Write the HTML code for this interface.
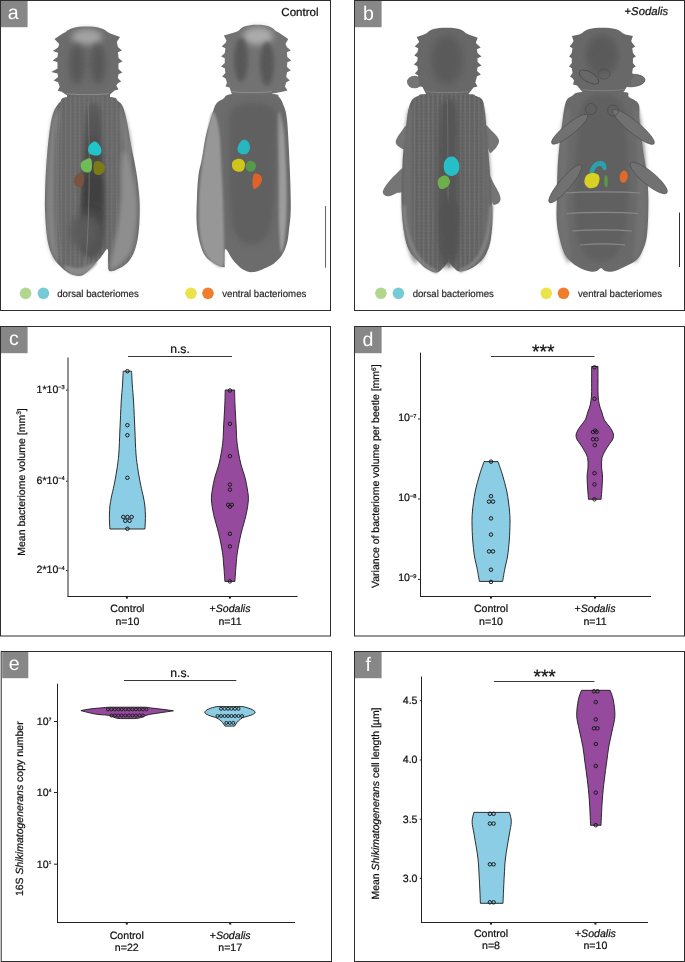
<!DOCTYPE html>
<html><head><meta charset="utf-8"><title>Figure</title>
<style>
html,body{margin:0;padding:0;background:#fff;}
body{width:685px;height:962px;overflow:hidden;font-family:"Liberation Sans",sans-serif;}
svg{display:block;will-change:transform;}
svg text{font-family:"Liberation Sans",sans-serif;text-rendering:geometricPrecision;}
svg text[fill="#111"]{stroke:#111;stroke-width:0.22px;}
svg text[fill="#2a2a2a"]{stroke:#2a2a2a;stroke-width:0.2px;}
</style></head><body>
<svg width="685" height="962" viewBox="0 0 685 962">
<rect width="685" height="962" fill="#fff"/>
<rect x="0.50" y="0.50" width="330.00" height="310.00" fill="none" stroke="#2e2e2e" stroke-width="1"/>
<rect x="1.00" y="1.00" width="26.60" height="26.20" fill="#878787"/>
<text x="13.20" y="18.60" font-size="19.6" fill="#fff" text-anchor="middle" font-family="Liberation Sans, sans-serif">a</text>
<rect x="354.50" y="0.50" width="330.00" height="310.00" fill="none" stroke="#2e2e2e" stroke-width="1"/>
<rect x="355.00" y="1.00" width="26.60" height="26.20" fill="#878787"/>
<text x="368.50" y="20.30" font-size="19.6" fill="#fff" text-anchor="middle" font-family="Liberation Sans, sans-serif">b</text>
<rect x="0.50" y="326.50" width="330.00" height="309.50" fill="none" stroke="#2e2e2e" stroke-width="1"/>
<rect x="1.00" y="327.00" width="26.60" height="26.20" fill="#878787"/>
<text x="13.80" y="345.20" font-size="19.6" fill="#fff" text-anchor="middle" font-family="Liberation Sans, sans-serif">c</text>
<rect x="354.50" y="326.50" width="330.00" height="309.50" fill="none" stroke="#2e2e2e" stroke-width="1"/>
<rect x="355.00" y="327.00" width="26.60" height="26.20" fill="#878787"/>
<text x="368.00" y="346.00" font-size="19.6" fill="#fff" text-anchor="middle" font-family="Liberation Sans, sans-serif">d</text>
<rect x="1.20" y="651.50" width="330.30" height="310.00" fill="none" stroke="#2e2e2e" stroke-width="1"/>
<rect x="2.20" y="652.00" width="26.10" height="26.20" fill="#878787"/>
<text x="14.20" y="670.00" font-size="19.6" fill="#fff" text-anchor="middle" font-family="Liberation Sans, sans-serif">e</text>
<rect x="354.50" y="651.50" width="330.00" height="310.00" fill="none" stroke="#2e2e2e" stroke-width="1"/>
<rect x="355.00" y="652.00" width="26.60" height="26.20" fill="#878787"/>
<text x="368.20" y="671.30" font-size="19.6" fill="#fff" text-anchor="middle" font-family="Liberation Sans, sans-serif">f</text>
<defs>
<filter id="bl1" x="-20%" y="-20%" width="140%" height="140%"><feGaussianBlur stdDeviation="0.55"/></filter>
<filter id="bl2" x="-30%" y="-30%" width="160%" height="160%"><feGaussianBlur stdDeviation="2"/></filter>
<filter id="bl3" x="-30%" y="-30%" width="160%" height="160%"><feGaussianBlur stdDeviation="3"/></filter>
<filter id="bl5" x="-50%" y="-50%" width="200%" height="200%"><feGaussianBlur stdDeviation="5"/></filter>
<filter id="bl15" x="-50%" y="-50%" width="200%" height="200%"><feGaussianBlur stdDeviation="1.2"/></filter>
<linearGradient id="gd1" x1="0" y1="108" x2="0" y2="258" gradientUnits="userSpaceOnUse"><stop offset="0" stop-color="#5c5c5c"/><stop offset="0.25" stop-color="#4e4e4e"/><stop offset="0.5" stop-color="#404040"/><stop offset="0.8" stop-color="#444"/><stop offset="1" stop-color="#555"/></linearGradient>
<pattern id="stria" x="0" y="0" width="4.6" height="3.4" patternUnits="userSpaceOnUse"><rect x="0" y="0" width="1.1" height="3.4" fill="#858585"/><circle cx="2.8" cy="1.7" r="0.9" fill="#4a4a4a"/></pattern>
<pattern id="stria2" x="1" y="0" width="4.6" height="3.4" patternUnits="userSpaceOnUse"><rect x="0" y="0" width="1.1" height="3.4" fill="#8a8a8a"/><circle cx="2.8" cy="1.7" r="0.9" fill="#505050"/></pattern>
<filter id="blob" x="-30%" y="-30%" width="160%" height="160%"><feGaussianBlur stdDeviation="0.7"/></filter>
</defs>
<g filter="url(#bl1)"><rect x="67" y="91" width="43" height="9" fill="#6a6a6a"/><path d="M68.00,97.00 C76.33,96.17 101.67,96.33 110.00,97.00 C118.33,97.67 115.83,99.33 118.00,101.00 C120.17,102.67 121.50,103.50 123.00,107.00 C124.50,110.50 125.67,115.67 127.00,122.00 C128.33,128.33 129.50,137.00 131.00,145.00 C132.50,153.00 134.58,160.83 136.00,170.00 C137.42,179.17 139.00,190.33 139.50,200.00 C140.00,209.67 139.67,220.00 139.00,228.00 C138.33,236.00 137.17,242.50 135.50,248.00 C133.83,253.50 131.58,257.67 129.00,261.00 C126.42,264.33 123.25,266.33 120.00,268.00 C116.75,269.67 111.50,272.00 109.50,271.00 C107.50,270.00 108.33,265.67 108.00,262.00 C107.67,258.33 108.67,249.83 107.50,249.00 C106.33,248.17 103.58,254.00 101.00,257.00 C98.42,260.00 95.17,263.92 92.00,267.00 C88.83,270.08 85.50,274.33 82.00,275.50 C78.50,276.67 74.33,275.25 71.00,274.00 C67.67,272.75 65.00,270.83 62.00,268.00 C59.00,265.17 55.42,261.67 53.00,257.00 C50.58,252.33 48.83,247.83 47.50,240.00 C46.17,232.17 45.33,220.00 45.00,210.00 C44.67,200.00 45.08,190.00 45.50,180.00 C45.92,170.00 46.67,159.17 47.50,150.00 C48.33,140.83 49.42,131.50 50.50,125.00 C51.58,118.50 52.42,114.83 54.00,111.00 C55.58,107.17 57.67,104.33 60.00,102.00 C62.33,99.67 59.67,97.83 68.00,97.00 Z" fill="#6a6a6a"/><path d="M68.00,97.00 C76.33,96.17 101.67,96.33 110.00,97.00 C118.33,97.67 115.83,99.33 118.00,101.00 C120.17,102.67 121.50,103.50 123.00,107.00 C124.50,110.50 125.67,115.67 127.00,122.00 C128.33,128.33 129.50,137.00 131.00,145.00 C132.50,153.00 134.58,160.83 136.00,170.00 C137.42,179.17 139.00,190.33 139.50,200.00 C140.00,209.67 139.67,220.00 139.00,228.00 C138.33,236.00 137.17,242.50 135.50,248.00 C133.83,253.50 131.58,257.67 129.00,261.00 C126.42,264.33 123.25,266.33 120.00,268.00 C116.75,269.67 111.50,272.00 109.50,271.00 C107.50,270.00 108.33,265.67 108.00,262.00 C107.67,258.33 108.67,249.83 107.50,249.00 C106.33,248.17 103.58,254.00 101.00,257.00 C98.42,260.00 95.17,263.92 92.00,267.00 C88.83,270.08 85.50,274.33 82.00,275.50 C78.50,276.67 74.33,275.25 71.00,274.00 C67.67,272.75 65.00,270.83 62.00,268.00 C59.00,265.17 55.42,261.67 53.00,257.00 C50.58,252.33 48.83,247.83 47.50,240.00 C46.17,232.17 45.33,220.00 45.00,210.00 C44.67,200.00 45.08,190.00 45.50,180.00 C45.92,170.00 46.67,159.17 47.50,150.00 C48.33,140.83 49.42,131.50 50.50,125.00 C51.58,118.50 52.42,114.83 54.00,111.00 C55.58,107.17 57.67,104.33 60.00,102.00 C62.33,99.67 59.67,97.83 68.00,97.00 Z" fill="url(#stria2)" opacity="0.28"/><path d="M56.00,110.00 C54.83,112.50 52.33,120.83 51.00,130.00 C49.67,139.17 48.67,153.33 48.00,165.00 C47.33,176.67 47.00,188.33 47.00,200.00 C47.00,211.67 47.00,225.83 48.00,235.00 C49.00,244.17 51.33,250.50 53.00,255.00 C54.67,259.50 57.50,264.50 58.00,262.00 C58.50,259.50 56.67,249.50 56.00,240.00 C55.33,230.50 54.33,216.67 54.00,205.00 C53.67,193.33 53.83,180.83 54.00,170.00 C54.17,159.17 54.33,149.17 55.00,140.00 C55.67,130.83 57.83,120.00 58.00,115.00 C58.17,110.00 57.17,107.50 56.00,110.00 Z" fill="#858585" filter="url(#bl2)"/><path d="M121.00,108.00 C122.00,108.00 125.33,118.00 127.00,125.00 C128.67,132.00 130.67,142.50 131.00,150.00 C131.33,157.50 130.17,170.00 129.00,170.00 C127.83,170.00 125.33,157.50 124.00,150.00 C122.67,142.50 121.50,132.00 121.00,125.00 C120.50,118.00 120.00,108.00 121.00,108.00 Z" fill="#7e7e7e" filter="url(#bl2)"/><path d="M124.00,150.00 C125.83,150.00 129.83,161.67 132.00,170.00 C134.17,178.33 136.33,190.00 137.00,200.00 C137.67,210.00 137.00,221.33 136.00,230.00 C135.00,238.67 133.67,246.17 131.00,252.00 C128.33,257.83 123.50,262.17 120.00,265.00 C116.50,267.83 111.17,271.50 110.00,269.00 C108.83,266.50 111.67,257.33 113.00,250.00 C114.33,242.67 116.67,234.17 118.00,225.00 C119.33,215.83 120.50,204.17 121.00,195.00 C121.50,185.83 120.50,177.50 121.00,170.00 C121.50,162.50 122.17,150.00 124.00,150.00 Z" fill="#8e8e8e" filter="url(#bl2)"/><path d="M87.00,108.00 C89.67,101.00 97.50,101.00 100.00,108.00 C102.50,115.00 101.25,136.33 102.00,150.00 C102.75,163.67 104.17,176.67 104.50,190.00 C104.83,203.33 104.58,220.00 104.00,230.00 C103.42,240.00 103.00,245.33 101.00,250.00 C99.00,254.67 95.33,258.00 92.00,258.00 C88.67,258.00 82.92,256.33 81.00,250.00 C79.08,243.67 80.42,230.00 80.50,220.00 C80.58,210.00 80.92,201.67 81.50,190.00 C82.08,178.33 83.08,163.67 84.00,150.00 C84.92,136.33 84.33,115.00 87.00,108.00 Z" fill="url(#gd1)" filter="url(#bl2)"/><ellipse cx="86" cy="232" rx="16" ry="18" fill="#5a5a5a" filter="url(#bl5)"/><path d="M64.00,266.00 C65.50,265.00 74.50,268.67 80.00,268.00 C85.50,267.33 95.33,261.67 97.00,262.00 C98.67,262.33 92.67,267.83 90.00,270.00 C87.33,272.17 84.17,274.33 81.00,275.00 C77.83,275.67 73.83,275.50 71.00,274.00 C68.17,272.50 62.50,267.00 64.00,266.00 Z" fill="#8a8a8a" filter="url(#bl15)"/><path d="M88,102 C90,150 90,220 85,272" stroke="#808080" stroke-width="0.7" fill="none"/><path d="M60,108 C58,150 56,220 62,262" stroke="#7c7c7c" stroke-width="0.7" fill="none"/><path d="M65.70,32.00 C68.70,28.50 75.60,26.50 86.60,26.50 C97.60,26.50 104.40,28.50 107.40,32.00 L110.40,33.50 L120.00,37.00 L116.80,42.00 L117.92,47.00 L121.92,50.60 L117.92,52.20 L118.55,58.00 L122.55,61.60 L118.55,63.20 L118.43,69.00 L122.43,72.60 L118.43,74.20 L117.80,78.00 L121.10,81.60 L117.80,83.20 L116.30,85.50 L118.50,89.50 L114.50,90.50 L109.00,95.50 L66.50,95.00 L61.70,91.70 L57.70,90.70 L59.70,86.70 L58.11,82.20 L53.61,80.60 L58.11,77.00 L57.54,73.60 L51.24,72.00 L57.54,68.40 L57.48,62.20 L52.68,60.60 L57.48,57.00 L58.04,52.70 L52.84,51.10 L58.04,47.50 L59.20,44.00 L54.50,39.00 L62.70,33.50 Z" fill="#6c6c6c"/><ellipse cx="87" cy="37" rx="15" ry="8" fill="#a3a3a3" filter="url(#bl3)"/><ellipse cx="77" cy="64" rx="8" ry="20" fill="#585858" filter="url(#bl3)"/><ellipse cx="98" cy="64" rx="8" ry="20" fill="#585858" filter="url(#bl3)"/><path d="M67,93.5 C75,95 100,95 109,93.5" stroke="#8c8c8c" stroke-width="1" fill="none"/><g filter="url(#blob)"><path d="M93.00,142.00 C94.42,141.25 95.67,141.50 97.00,142.50 C98.33,143.50 100.42,146.08 101.00,148.00 C101.58,149.92 101.50,152.75 100.50,154.00 C99.50,155.25 96.92,155.67 95.00,155.50 C93.08,155.33 90.08,154.42 89.00,153.00 C87.92,151.58 87.83,148.83 88.50,147.00 C89.17,145.17 91.58,142.75 93.00,142.00 Z" fill="#22c4ca"/><path d="M88.00,158.50 C89.75,158.00 90.92,158.08 91.50,160.00 C92.08,161.92 92.25,167.92 91.50,170.00 C90.75,172.08 88.58,172.50 87.00,172.50 C85.42,172.50 83.00,171.58 82.00,170.00 C81.00,168.42 80.00,164.92 81.00,163.00 C82.00,161.08 86.25,159.00 88.00,158.50 Z" fill="#6fbb57"/><path d="M95.00,161.50 C96.25,160.50 99.33,160.92 101.00,162.00 C102.67,163.08 105.00,165.92 105.00,168.00 C105.00,170.08 102.67,173.50 101.00,174.50 C99.33,175.50 96.25,175.08 95.00,174.00 C93.75,172.92 93.50,170.08 93.50,168.00 C93.50,165.92 93.75,162.50 95.00,161.50 Z" fill="#7c7a18"/><path d="M78.00,173.50 C79.42,172.83 82.08,172.42 83.00,174.00 C83.92,175.58 84.00,180.83 83.50,183.00 C83.00,185.17 81.42,186.67 80.00,187.00 C78.58,187.33 75.92,186.50 75.00,185.00 C74.08,183.50 74.00,179.92 74.50,178.00 C75.00,176.08 76.58,174.17 78.00,173.50 Z" fill="#7a5240"/></g></g>
<g filter="url(#bl1)"><rect x="232" y="90" width="40" height="8.5" fill="#6a6a6a"/><path d="M232.00,94.00 C240.33,93.17 265.17,93.50 273.00,94.00 C280.83,94.50 277.33,95.33 279.00,97.00 C280.67,98.67 281.67,100.23 283.00,104.00 C284.33,107.77 285.87,108.77 287.00,119.60 C288.13,130.43 289.17,154.17 289.80,169.00 C290.43,183.83 290.93,198.43 290.80,208.60 C290.67,218.77 289.67,224.10 289.00,230.00 C288.33,235.90 287.97,239.83 286.80,244.00 C285.63,248.17 283.97,251.92 282.00,255.00 C280.03,258.08 277.22,260.60 275.00,262.50 C272.78,264.40 272.20,264.82 268.70,266.40 C265.20,267.98 258.28,271.47 254.00,272.00 C249.72,272.53 246.50,271.60 243.00,269.60 C239.50,267.60 235.92,263.43 233.00,260.00 C230.08,256.57 226.92,248.67 225.50,249.00 C224.08,249.33 224.80,258.97 224.50,262.00 C224.20,265.03 225.78,267.20 223.70,267.20 C221.62,267.20 215.45,264.53 212.00,262.00 C208.55,259.47 205.50,257.67 203.00,252.00 C200.50,246.33 198.02,236.88 197.00,228.00 C195.98,219.12 196.65,207.53 196.90,198.70 C197.15,189.87 197.67,181.62 198.50,175.00 C199.33,168.38 200.65,165.67 201.90,159.00 C203.15,152.33 204.37,142.22 206.00,135.00 C207.63,127.78 210.03,120.87 211.70,115.70 C213.37,110.53 214.12,106.78 216.00,104.00 C217.88,101.22 220.33,100.67 223.00,99.00 C225.67,97.33 223.67,94.83 232.00,94.00 Z" fill="#6c6c6c"/><path d="M213.00,112.00 C211.00,112.83 208.92,125.33 207.00,135.00 C205.08,144.67 202.83,159.17 201.50,170.00 C200.17,180.83 199.33,190.00 199.00,200.00 C198.67,210.00 198.75,221.67 199.50,230.00 C200.25,238.33 201.42,244.67 203.50,250.00 C205.58,255.33 208.75,259.33 212.00,262.00 C215.25,264.67 221.00,268.83 223.00,266.00 C225.00,263.17 224.00,256.00 224.00,245.00 C224.00,234.00 223.50,214.17 223.00,200.00 C222.50,185.83 221.67,171.67 221.00,160.00 C220.33,148.33 220.33,138.00 219.00,130.00 C217.67,122.00 215.00,111.17 213.00,112.00 Z" fill="#979797" filter="url(#bl15)"/><path d="M279.00,112.00 C280.08,112.83 282.33,120.33 283.50,130.00 C284.67,139.67 285.50,156.67 286.00,170.00 C286.50,183.33 286.75,198.33 286.50,210.00 C286.25,221.67 285.42,233.00 284.50,240.00 C283.58,247.00 281.92,254.50 281.00,252.00 C280.08,249.50 279.42,235.33 279.00,225.00 C278.58,214.67 278.67,202.50 278.50,190.00 C278.33,177.50 278.25,160.83 278.00,150.00 C277.75,139.17 276.83,131.33 277.00,125.00 C277.17,118.67 277.92,111.17 279.00,112.00 Z" fill="#9c9c9c" filter="url(#bl15)"/><path d="M233.00,108.00 C240.50,101.00 266.83,101.00 274.00,108.00 C281.17,115.00 275.83,134.67 276.00,150.00 C276.17,165.33 276.33,185.83 275.00,200.00 C273.67,214.17 272.17,227.50 268.00,235.00 C263.83,242.50 255.67,245.50 250.00,245.00 C244.33,244.50 237.50,241.17 234.00,232.00 C230.50,222.83 229.83,203.67 229.00,190.00 C228.17,176.33 228.33,163.67 229.00,150.00 C229.67,136.33 225.50,115.00 233.00,108.00 Z" fill="#616161" filter="url(#bl3)"/><path d="M238.90,30.50 C241.90,27.00 246.00,24.80 257.00,24.80 C268.00,24.80 272.70,27.50 275.70,31.00 L278.70,32.50 L288.20,39.00 L285.50,44.00 L286.91,47.00 L290.71,50.60 L286.91,52.20 L287.30,57.00 L291.30,60.60 L287.30,62.20 L287.03,67.00 L290.83,70.60 L287.03,72.20 L286.21,77.00 L289.81,80.60 L286.21,82.20 L285.00,86.50 L287.50,90.50 L283.50,91.50 L271.80,93.80 L231.70,93.80 L229.50,87.60 L225.50,86.60 L227.00,82.60 L225.41,78.20 L222.11,76.60 L225.41,73.00 L224.78,68.20 L220.98,66.60 L224.78,63.00 L224.78,58.20 L221.18,56.60 L224.78,53.00 L225.41,48.20 L221.61,46.60 L225.41,43.00 L226.50,40.40 L223.80,35.40 L235.90,32.00 Z" fill="#727272"/><ellipse cx="258" cy="36" rx="15" ry="9" fill="#ababab" filter="url(#bl3)"/><ellipse cx="241" cy="60" rx="7" ry="22" fill="#585858" filter="url(#bl2)"/><ellipse cx="267" cy="64" rx="7" ry="22" fill="#585858" filter="url(#bl2)"/><path d="M232,91.5 C240,93 262,93 272,91.5" stroke="#8c8c8c" stroke-width="1" fill="none"/><g filter="url(#blob)"><path d="M243.00,140.00 C244.50,139.58 246.83,140.17 248.00,141.50 C249.17,142.83 250.17,146.00 250.00,148.00 C249.83,150.00 248.50,152.50 247.00,153.50 C245.50,154.50 242.58,154.58 241.00,154.00 C239.42,153.42 237.83,151.67 237.50,150.00 C237.17,148.33 238.08,145.67 239.00,144.00 C239.92,142.33 241.50,140.42 243.00,140.00 Z" fill="#25b7c1"/><path d="M237.00,159.00 C238.58,158.58 240.67,158.67 242.00,159.50 C243.33,160.33 244.83,162.17 245.00,164.00 C245.17,165.83 244.33,169.25 243.00,170.50 C241.67,171.75 238.75,171.92 237.00,171.50 C235.25,171.08 233.25,169.58 232.50,168.00 C231.75,166.42 231.75,163.50 232.50,162.00 C233.25,160.50 235.42,159.42 237.00,159.00 Z" fill="#cfc61a"/><path d="M249.00,161.00 C250.42,160.33 252.83,161.17 254.00,162.00 C255.17,162.83 256.08,164.50 256.00,166.00 C255.92,167.50 254.83,170.17 253.50,171.00 C252.17,171.83 249.33,171.83 248.00,171.00 C246.67,170.17 245.33,167.67 245.50,166.00 C245.67,164.33 247.58,161.67 249.00,161.00 Z" fill="#55994a"/><path d="M255.00,173.50 C256.17,173.17 258.83,173.92 260.00,175.00 C261.17,176.08 262.17,178.17 262.00,180.00 C261.83,181.83 260.33,184.50 259.00,186.00 C257.67,187.50 255.08,189.50 254.00,189.00 C252.92,188.50 252.67,185.00 252.50,183.00 C252.33,181.00 252.58,178.58 253.00,177.00 C253.42,175.42 253.83,173.83 255.00,173.50 Z" fill="#dd642a"/></g></g>
<g filter="url(#bl1)"><rect x="426.5" y="90" width="41" height="7.5" fill="#646464"/><ellipse cx="414.5" cy="82" rx="7.5" ry="6.3" fill="#757575"/><path d="M407.00,126.00 C406.33,123.42 402.75,129.83 401.00,132.00 C399.25,134.17 397.33,137.08 396.50,139.00 C395.67,140.92 395.42,142.08 396.00,143.50 C396.58,144.92 398.50,146.83 400.00,147.50 C401.50,148.17 403.83,151.08 405.00,147.50 C406.17,143.92 407.67,128.58 407.00,126.00 Z" fill="#757575"/><path d="M484.00,125.00 C484.50,121.67 489.67,128.83 492.00,131.00 C494.33,133.17 496.88,136.00 498.00,138.00 C499.12,140.00 499.37,141.00 498.70,143.00 C498.03,145.00 495.62,148.67 494.00,150.00 C492.38,151.33 490.67,155.17 489.00,151.00 C487.33,146.83 483.50,128.33 484.00,125.00 Z" fill="#757575"/><path d="M404.00,168.50 C402.67,166.00 397.83,172.42 395.00,175.00 C392.17,177.58 389.03,181.25 387.00,184.00 C384.97,186.75 383.13,189.58 382.80,191.50 C382.47,193.42 383.80,194.75 385.00,195.50 C386.20,196.25 388.00,196.42 390.00,196.00 C392.00,195.58 394.83,194.00 397.00,193.00 C399.17,192.00 401.83,194.08 403.00,190.00 C404.17,185.92 405.33,171.00 404.00,168.50 Z" fill="#757575"/><path d="M489.00,176.00 C489.33,173.00 492.33,181.17 494.00,184.00 C495.67,186.83 497.92,190.37 499.00,193.00 C500.08,195.63 500.83,197.97 500.50,199.80 C500.17,201.63 498.42,203.63 497.00,204.00 C495.58,204.37 493.33,206.67 492.00,202.00 C490.67,197.33 488.67,179.00 489.00,176.00 Z" fill="#757575"/><path d="M426.00,94.00 C434.33,93.67 459.67,93.67 468.00,94.00 C476.33,94.33 473.58,95.00 476.00,96.00 C478.42,97.00 481.00,97.33 482.50,100.00 C484.00,102.67 484.33,107.00 485.00,112.00 C485.67,117.00 485.83,122.00 486.50,130.00 C487.17,138.00 488.02,146.33 489.00,160.00 C489.98,173.67 492.07,199.00 492.40,212.00 C492.73,225.00 491.90,231.33 491.00,238.00 C490.10,244.67 488.67,248.17 487.00,252.00 C485.33,255.83 483.67,258.25 481.00,261.00 C478.33,263.75 474.60,266.75 471.00,268.50 C467.40,270.25 462.40,271.75 459.40,271.50 C456.40,271.25 454.82,268.58 453.00,267.00 C451.18,265.42 450.00,262.00 448.50,262.00 C447.00,262.00 445.92,265.25 444.00,267.00 C442.08,268.75 439.83,272.17 437.00,272.50 C434.17,272.83 430.17,270.92 427.00,269.00 C423.83,267.08 421.00,264.17 418.00,261.00 C415.00,257.83 411.33,254.83 409.00,250.00 C406.67,245.17 405.27,240.33 404.00,232.00 C402.73,223.67 401.65,211.17 401.40,200.00 C401.15,188.83 402.07,174.17 402.50,165.00 C402.93,155.83 403.38,151.57 404.00,145.00 C404.62,138.43 405.48,131.43 406.20,125.60 C406.92,119.77 407.33,114.27 408.30,110.00 C409.27,105.73 410.38,102.33 412.00,100.00 C413.62,97.67 415.67,97.00 418.00,96.00 C420.33,95.00 417.67,94.33 426.00,94.00 Z" fill="#666"/><path d="M426.00,94.00 C434.33,93.67 459.67,93.67 468.00,94.00 C476.33,94.33 473.58,95.00 476.00,96.00 C478.42,97.00 481.00,97.33 482.50,100.00 C484.00,102.67 484.33,107.00 485.00,112.00 C485.67,117.00 485.83,122.00 486.50,130.00 C487.17,138.00 488.02,146.33 489.00,160.00 C489.98,173.67 492.07,199.00 492.40,212.00 C492.73,225.00 491.90,231.33 491.00,238.00 C490.10,244.67 488.67,248.17 487.00,252.00 C485.33,255.83 483.67,258.25 481.00,261.00 C478.33,263.75 474.60,266.75 471.00,268.50 C467.40,270.25 462.40,271.75 459.40,271.50 C456.40,271.25 454.82,268.58 453.00,267.00 C451.18,265.42 450.00,262.00 448.50,262.00 C447.00,262.00 445.92,265.25 444.00,267.00 C442.08,268.75 439.83,272.17 437.00,272.50 C434.17,272.83 430.17,270.92 427.00,269.00 C423.83,267.08 421.00,264.17 418.00,261.00 C415.00,257.83 411.33,254.83 409.00,250.00 C406.67,245.17 405.27,240.33 404.00,232.00 C402.73,223.67 401.65,211.17 401.40,200.00 C401.15,188.83 402.07,174.17 402.50,165.00 C402.93,155.83 403.38,151.57 404.00,145.00 C404.62,138.43 405.48,131.43 406.20,125.60 C406.92,119.77 407.33,114.27 408.30,110.00 C409.27,105.73 410.38,102.33 412.00,100.00 C413.62,97.67 415.67,97.00 418.00,96.00 C420.33,95.00 417.67,94.33 426.00,94.00 Z" fill="url(#stria)" opacity="0.35"/><path d="M409.00,110.00 C407.67,114.67 405.92,128.33 405.00,140.00 C404.08,151.67 403.58,165.83 403.50,180.00 C403.42,194.17 403.42,213.00 404.50,225.00 C405.58,237.00 407.92,245.67 410.00,252.00 C412.08,258.33 416.50,266.67 417.00,263.00 C417.50,259.33 414.00,243.83 413.00,230.00 C412.00,216.17 411.33,195.00 411.00,180.00 C410.67,165.00 410.67,151.33 411.00,140.00 C411.33,128.67 413.33,117.00 413.00,112.00 C412.67,107.00 410.33,105.33 409.00,110.00 Z" fill="#6e6e6e" filter="url(#bl2)"/><path d="M483.00,110.00 C484.17,114.67 485.83,128.33 487.00,140.00 C488.17,151.67 489.50,165.83 490.00,180.00 C490.50,194.17 490.83,213.00 490.00,225.00 C489.17,237.00 487.00,245.67 485.00,252.00 C483.00,258.33 478.50,266.67 478.00,263.00 C477.50,259.33 481.17,243.83 482.00,230.00 C482.83,216.17 483.00,195.00 483.00,180.00 C483.00,165.00 482.50,151.33 482.00,140.00 C481.50,128.67 479.83,117.00 480.00,112.00 C480.17,107.00 481.83,105.33 483.00,110.00 Z" fill="#6c6c6c" filter="url(#bl2)"/><path d="M442.00,105.00 C445.00,95.83 453.33,95.83 456.00,105.00 C458.67,114.17 457.67,140.83 458.00,160.00 C458.33,179.17 458.50,203.00 458.00,220.00 C457.50,237.00 456.83,254.33 455.00,262.00 C453.17,269.67 449.33,266.00 447.00,266.00 C444.67,266.00 442.50,269.67 441.00,262.00 C439.50,254.33 438.50,237.00 438.00,220.00 C437.50,203.00 437.33,179.17 438.00,160.00 C438.67,140.83 439.00,114.17 442.00,105.00 Z" fill="#545454" filter="url(#bl3)"/><path d="M447.5,99 C448,150 448,220 449,268" stroke="#767676" stroke-width="0.7" fill="none"/><path d="M404,205 C405,235 412,256 428,267 C432,269.5 435,271 437,272" stroke="#838383" stroke-width="3.5" fill="none" filter="url(#bl15)"/><path d="M491,205 C490,235 484,256 470,266 C466,268.5 462,270 459.5,271" stroke="#838383" stroke-width="3.5" fill="none" filter="url(#bl15)"/><path d="M442.00,203.00 C444.83,198.50 454.33,198.50 457.00,203.00 C459.67,207.50 458.17,221.33 458.00,230.00 C457.83,238.67 457.50,250.17 456.00,255.00 C454.50,259.83 451.33,259.00 449.00,259.00 C446.67,259.00 443.50,259.83 442.00,255.00 C440.50,250.17 440.00,238.67 440.00,230.00 C440.00,221.33 439.17,207.50 442.00,203.00 Z" fill="#525252" filter="url(#bl2)"/><path d="M427.00,33.00 C430.00,29.50 435.50,27.80 446.50,27.80 C457.50,27.80 462.60,29.50 465.60,33.00 L468.60,34.50 L477.70,37.70 L475.80,42.70 L476.88,44.00 L480.68,47.60 L476.88,49.20 L477.49,53.00 L481.49,56.60 L477.49,58.20 L477.55,62.00 L481.55,65.60 L477.55,67.20 L477.05,71.00 L480.85,74.60 L477.05,76.20 L475.30,82.50 L477.50,86.50 L473.50,87.50 L468.00,94.60 L426.30,94.60 L422.50,87.00 L418.50,86.00 L419.70,82.00 L417.87,75.20 L414.87,73.60 L417.87,70.00 L417.42,66.20 L413.92,64.60 L417.42,61.00 L417.55,57.20 L414.25,55.60 L417.55,52.00 L418.21,48.20 L414.71,46.60 L418.21,43.00 L419.20,41.90 L416.70,36.90 L424.00,34.50 Z" fill="#676767"/><ellipse cx="447" cy="60" rx="15" ry="24" fill="#5a5a5a" filter="url(#bl3)"/><path d="M426,91.5 C435,93 460,93 468,91.5" stroke="#808080" stroke-width="1" fill="none"/><g filter="url(#blob)"><path d="M448.00,157.50 C449.67,156.50 452.25,156.25 454.00,157.00 C455.75,157.75 457.67,159.83 458.50,162.00 C459.33,164.17 459.58,167.83 459.00,170.00 C458.42,172.17 456.67,174.08 455.00,175.00 C453.33,175.92 450.75,176.17 449.00,175.50 C447.25,174.83 445.33,173.08 444.50,171.00 C443.67,168.92 443.42,165.25 444.00,163.00 C444.58,160.75 446.33,158.50 448.00,157.50 Z" fill="#27bfc7"/><path d="M444.00,175.50 C445.58,175.17 447.00,175.92 448.00,177.00 C449.00,178.08 450.17,180.33 450.00,182.00 C449.83,183.67 448.50,185.83 447.00,187.00 C445.50,188.17 442.50,189.33 441.00,189.00 C439.50,188.67 438.42,186.67 438.00,185.00 C437.58,183.33 437.50,180.58 438.50,179.00 C439.50,177.42 442.42,175.83 444.00,175.50 Z" fill="#6eae4c"/></g></g>
<g filter="url(#bl1)"><rect x="582.5" y="88" width="41" height="7.5" fill="#666"/><ellipse cx="631.50" cy="80.50" rx="13.50" ry="6.30" transform="rotate(-3.00 631.50 80.50)" fill="#717171" stroke="#4c4c4c" stroke-width="0.7"/><path d="M582.00,92.00 C590.67,91.33 616.17,91.17 624.00,92.00 C631.83,92.83 626.57,95.00 629.00,97.00 C631.43,99.00 636.85,100.17 638.60,104.00 C640.35,107.83 638.77,112.33 639.50,120.00 C640.23,127.67 641.80,141.22 643.00,150.00 C644.20,158.78 645.80,164.37 646.70,172.70 C647.60,181.03 648.35,189.62 648.40,200.00 C648.45,210.38 648.07,226.33 647.00,235.00 C645.93,243.67 643.95,247.67 642.00,252.00 C640.05,256.33 638.63,258.33 635.30,261.00 C631.97,263.67 625.75,266.25 622.00,268.00 C618.25,269.75 615.63,271.00 612.80,271.50 C609.97,272.00 606.97,271.58 605.00,271.00 C603.03,270.42 602.33,268.00 601.00,268.00 C599.67,268.00 598.78,270.42 597.00,271.00 C595.22,271.58 593.13,272.00 590.30,271.50 C587.47,271.00 583.38,269.75 580.00,268.00 C576.62,266.25 572.83,264.00 570.00,261.00 C567.17,258.00 565.17,256.00 563.00,250.00 C560.83,244.00 558.03,233.33 557.00,225.00 C555.97,216.67 556.72,209.17 556.80,200.00 C556.88,190.83 557.13,178.33 557.50,170.00 C557.87,161.67 558.25,157.50 559.00,150.00 C559.75,142.50 560.90,132.92 562.00,125.00 C563.10,117.08 563.93,107.33 565.60,102.50 C567.27,97.67 569.27,97.75 572.00,96.00 C574.73,94.25 573.33,92.67 582.00,92.00 Z" fill="#6a6a6a"/><path d="M566.00,110.00 C564.50,114.67 562.17,128.33 561.00,140.00 C559.83,151.67 559.33,165.83 559.00,180.00 C558.67,194.17 558.33,213.33 559.00,225.00 C559.67,236.67 561.17,243.83 563.00,250.00 C564.83,256.17 569.17,265.33 570.00,262.00 C570.83,258.67 568.67,243.67 568.00,230.00 C567.33,216.33 566.17,195.00 566.00,180.00 C565.83,165.00 566.33,151.33 567.00,140.00 C567.67,128.67 570.17,117.00 570.00,112.00 C569.83,107.00 567.50,105.33 566.00,110.00 Z" fill="#727272" filter="url(#bl2)"/><path d="M638.00,110.00 C639.50,114.67 641.67,128.33 643.00,140.00 C644.33,151.67 645.50,165.83 646.00,180.00 C646.50,194.17 646.83,213.33 646.00,225.00 C645.17,236.67 643.00,243.83 641.00,250.00 C639.00,256.17 634.83,265.33 634.00,262.00 C633.17,258.67 635.33,243.67 636.00,230.00 C636.67,216.33 637.83,195.00 638.00,180.00 C638.17,165.00 637.67,151.33 637.00,140.00 C636.33,128.67 633.83,117.00 634.00,112.00 C634.17,107.00 636.50,105.33 638.00,110.00 Z" fill="#727272" filter="url(#bl2)"/><path d="M585.00,100.00 C592.33,91.67 612.83,91.67 620.00,100.00 C627.17,108.33 626.67,131.67 628.00,150.00 C629.33,168.33 629.33,193.33 628.00,210.00 C626.67,226.67 624.67,241.33 620.00,250.00 C615.33,258.67 606.33,262.00 600.00,262.00 C593.67,262.00 586.33,258.67 582.00,250.00 C577.67,241.33 575.00,226.67 574.00,210.00 C573.00,193.33 574.17,168.33 576.00,150.00 C577.83,131.67 577.67,108.33 585.00,100.00 Z" fill="#616161" filter="url(#bl3)"/><path d="M565.0,193.0 C580.0,191.5 625.0,191.5 640.0,193.0" stroke="#888" stroke-width="1.1" fill="none"/><path d="M567.0,213.5 C582.0,212.0 623.0,212.0 638.0,213.5" stroke="#888" stroke-width="1.1" fill="none"/><path d="M572.0,231.0 C587.0,229.5 617.0,229.5 632.0,231.0" stroke="#888" stroke-width="1.1" fill="none"/><path d="M580.0,245.0 C595.0,243.5 610.0,243.5 625.0,245.0" stroke="#888" stroke-width="1.1" fill="none"/><path d="M582.30,33.00 C585.30,29.50 591.30,27.80 602.30,27.80 C613.30,27.80 619.40,29.50 622.40,33.00 L625.40,34.50 L632.90,36.00 L631.20,41.00 L632.29,43.00 L635.19,46.60 L632.29,48.20 L632.93,53.00 L635.83,56.60 L632.93,58.20 L632.88,63.00 L635.78,66.60 L632.88,68.20 L632.14,73.00 L634.74,76.60 L632.14,78.20 L630.70,80.50 L631.50,84.50 L627.50,85.50 L624.00,91.50 L582.00,91.50 L577.00,85.50 L573.00,84.50 L574.00,80.50 L572.56,78.20 L570.06,76.60 L572.56,73.00 L571.82,68.20 L569.02,66.60 L571.82,63.00 L571.77,58.20 L569.17,56.60 L571.77,53.00 L572.41,48.20 L569.61,46.60 L572.41,43.00 L573.50,41.00 L571.90,36.00 L579.30,34.50 Z" fill="#686868"/><ellipse cx="602" cy="55" rx="16" ry="20" fill="#5a5a5a" filter="url(#bl3)"/><ellipse cx="589.00" cy="77.00" rx="11.00" ry="5.00" transform="rotate(30.00 589.00 77.00)" fill="none" stroke="#4c4c4c" stroke-width="0.9"/><ellipse cx="604.00" cy="74.00" rx="6.00" ry="5.00" transform="rotate(0.00 604.00 74.00)" fill="none" stroke="#4c4c4c" stroke-width="0.8"/><ellipse cx="569.65" cy="129.25" rx="22.76" ry="5.50" transform="rotate(141.24 569.65 129.25)" fill="#717171" stroke="#4c4c4c" stroke-width="0.7"/><ellipse cx="633.45" cy="126.85" rx="26.57" ry="6.00" transform="rotate(39.35 633.45 126.85)" fill="#717171" stroke="#4c4c4c" stroke-width="0.7"/><ellipse cx="565.30" cy="183.70" rx="24.55" ry="5.75" transform="rotate(130.37 565.30 183.70)" fill="#717171" stroke="#4c4c4c" stroke-width="0.7"/><ellipse cx="648.70" cy="177.95" rx="23.48" ry="6.50" transform="rotate(39.56 648.70 177.95)" fill="#717171" stroke="#4c4c4c" stroke-width="0.7"/><circle cx="591.0" cy="109.0" r="5.5" fill="none" stroke="#4e4e4e" stroke-width="0.9"/><circle cx="613.0" cy="110.5" r="5.5" fill="none" stroke="#4e4e4e" stroke-width="0.9"/><path d="M582,89.5 C592,91 612,91 624,89.5" stroke="#808080" stroke-width="1" fill="none"/><g filter="url(#blob)"><path d="M589.5,173 C590,165 596,160.5 601,161 C606,161.5 607,166 606,170 L603,170 C603,167 601,165.5 599,166 C596,167 594,170 593.5,174 Z" fill="#2aa2ad"/><path d="M592.00,173.00 C594.00,172.75 596.75,173.33 598.00,174.50 C599.25,175.67 599.75,178.00 599.50,180.00 C599.25,182.00 598.25,185.17 596.50,186.50 C594.75,187.83 591.00,188.58 589.00,188.00 C587.00,187.42 585.00,185.00 584.50,183.00 C584.00,181.00 584.75,177.67 586.00,176.00 C587.25,174.33 590.00,173.25 592.00,173.00 Z" fill="#d8d020"/><path d="M606.00,175.00 C606.50,175.00 607.25,176.33 607.50,178.00 C607.75,179.67 607.75,183.42 607.50,185.00 C607.25,186.58 606.50,187.67 606.00,187.50 C605.50,187.33 604.75,185.58 604.50,184.00 C604.25,182.42 604.25,179.50 604.50,178.00 C604.75,176.50 605.50,175.00 606.00,175.00 Z" fill="#5c9a44"/><path d="M623.50,170.50 C624.67,170.08 626.33,171.25 627.00,172.50 C627.67,173.75 627.92,176.33 627.50,178.00 C627.08,179.67 625.67,182.00 624.50,182.50 C623.33,183.00 621.25,182.25 620.50,181.00 C619.75,179.75 619.50,176.75 620.00,175.00 C620.50,173.25 622.33,170.92 623.50,170.50 Z" fill="#e06a2c"/></g></g>
<line x1="325.5" y1="206" x2="325.5" y2="267.7" stroke="#6a6a6a" stroke-width="1.1"/>
<line x1="679.5" y1="212.5" x2="679.5" y2="267" stroke="#333" stroke-width="1"/>
<circle cx="25.6" cy="293.3" r="5.8" fill="#b3d68f"/>
<circle cx="43.4" cy="293.3" r="5.8" fill="#76cad6"/>
<text x="57.20" y="296.70" font-size="9.90" fill="#2a2a2a" text-anchor="start" textLength="81.60" lengthAdjust="spacingAndGlyphs" >dorsal bacteriomes</text>
<circle cx="380.9" cy="293.3" r="5.8" fill="#b3d68f"/>
<circle cx="398.4" cy="293.3" r="5.8" fill="#76cad6"/>
<text x="412.70" y="296.70" font-size="9.90" fill="#2a2a2a" text-anchor="start" textLength="81.10" lengthAdjust="spacingAndGlyphs" >dorsal bacteriomes</text>
<circle cx="191.0" cy="293.3" r="5.8" fill="#ece24c"/>
<circle cx="208.0" cy="293.3" r="5.8" fill="#ef7e2c"/>
<text x="222.30" y="296.70" font-size="9.90" fill="#2a2a2a" text-anchor="start" textLength="84.00" lengthAdjust="spacingAndGlyphs" >ventral bacteriomes</text>
<circle cx="546.3" cy="293.3" r="5.8" fill="#ece24c"/>
<circle cx="563.5" cy="293.3" r="5.8" fill="#ef7e2c"/>
<text x="578.00" y="296.70" font-size="9.90" fill="#2a2a2a" text-anchor="start" textLength="84.00" lengthAdjust="spacingAndGlyphs" >ventral bacteriomes</text>
<text x="281.30" y="16.20" font-size="11.50" fill="#111" text-anchor="start" textLength="37.20" lengthAdjust="spacingAndGlyphs" >Control</text>
<text x="624.5" y="14.8" font-size="11.3" fill="#111" font-family="Liberation Sans, sans-serif">+<tspan font-style="italic">Sodalis</tspan></text>
<line x1="68.0" y1="357.5" x2="68.0" y2="597.0" stroke="#222" stroke-width="1"/>
<line x1="67.5" y1="596.5" x2="297.6" y2="596.5" stroke="#222" stroke-width="1"/>
<line x1="66.0" y1="390.20" x2="67.5" y2="390.20" stroke="#222" stroke-width="1"/>
<line x1="66.0" y1="481.20" x2="67.5" y2="481.20" stroke="#222" stroke-width="1"/>
<line x1="66.0" y1="570.50" x2="67.5" y2="570.50" stroke="#222" stroke-width="1"/>
<rect x="125.90" y="597.0" width="2" height="1.6" fill="#222"/>
<rect x="228.90" y="597.0" width="2" height="1.6" fill="#222"/>
<text x="64.80" y="392.90" font-size="10.60" fill="#111" text-anchor="end" font-family="Liberation Sans, sans-serif">1*10<tspan font-size="5.70" dy="-3.50">−3</tspan></text>
<text x="64.80" y="483.90" font-size="10.60" fill="#111" text-anchor="end" font-family="Liberation Sans, sans-serif">6*10<tspan font-size="5.70" dy="-3.50">−4</tspan></text>
<text x="64.80" y="573.20" font-size="10.60" fill="#111" text-anchor="end" font-family="Liberation Sans, sans-serif">2*10<tspan font-size="5.70" dy="-3.50">−4</tspan></text>
<text x="0" y="0" font-size="10.45" fill="#111" text-anchor="middle" transform="translate(24.90,482.00) rotate(-90)" textLength="147.40" lengthAdjust="spacingAndGlyphs" font-family="Liberation Sans, sans-serif">Mean bacteriome volume [mm<tspan font-size="6.5" dy="-3.5">3</tspan><tspan dy="3.5">]</tspan></text>
<line x1="128.00" y1="356.50" x2="232.00" y2="356.50" stroke="#383838" stroke-width="1"/>
<text x="180.00" y="352.80" font-size="12.20" fill="#111" text-anchor="middle" font-family="Liberation Sans, sans-serif">n.s.</text>
<path d="M123.20,371.20 L131.60,371.20 C131.72,373.50 131.97,379.87 132.30,385.00 C132.63,390.13 133.17,394.50 133.60,402.00 C134.03,409.50 134.50,421.33 134.90,430.00 C135.30,438.67 135.48,447.33 136.00,454.00 C136.52,460.67 137.20,464.75 138.00,470.00 C138.80,475.25 139.90,481.00 140.80,485.50 C141.70,490.00 142.72,493.58 143.40,497.00 C144.08,500.42 144.57,503.00 144.90,506.00 C145.23,509.00 145.33,512.33 145.40,515.00 C145.47,517.67 145.38,519.67 145.30,522.00 C145.22,524.33 144.97,527.83 144.90,529.00 L109.90,529.00 C109.83,527.83 109.58,524.33 109.50,522.00 C109.42,519.67 109.33,517.67 109.40,515.00 C109.47,512.33 109.57,509.00 109.90,506.00 C110.23,503.00 110.72,500.42 111.40,497.00 C112.08,493.58 113.10,490.00 114.00,485.50 C114.90,481.00 116.00,475.25 116.80,470.00 C117.60,464.75 118.28,460.67 118.80,454.00 C119.32,447.33 119.50,438.67 119.90,430.00 C120.30,421.33 120.77,409.50 121.20,402.00 C121.63,394.50 122.17,390.13 122.50,385.00 C122.83,379.87 123.08,373.50 123.20,371.20 Z" fill="#8ACDE5" stroke="#1a1a1a" stroke-width="0.9"/>
<circle cx="127.40" cy="371.20" r="1.75" fill="none" stroke="#1a1a1a" stroke-width="1.00"/><circle cx="127.40" cy="425.20" r="1.75" fill="none" stroke="#1a1a1a" stroke-width="1.00"/><circle cx="127.40" cy="435.20" r="1.75" fill="none" stroke="#1a1a1a" stroke-width="1.00"/><circle cx="127.40" cy="477.80" r="1.75" fill="none" stroke="#1a1a1a" stroke-width="1.00"/><circle cx="123.30" cy="517.00" r="1.75" fill="none" stroke="#1a1a1a" stroke-width="1.00"/><circle cx="127.40" cy="517.00" r="1.75" fill="none" stroke="#1a1a1a" stroke-width="1.00"/><circle cx="131.60" cy="517.00" r="1.75" fill="none" stroke="#1a1a1a" stroke-width="1.00"/><circle cx="125.30" cy="520.80" r="1.75" fill="none" stroke="#1a1a1a" stroke-width="1.00"/><circle cx="129.50" cy="520.80" r="1.75" fill="none" stroke="#1a1a1a" stroke-width="1.00"/><circle cx="127.40" cy="528.80" r="1.75" fill="none" stroke="#1a1a1a" stroke-width="1.00"/>
<path d="M225.20,390.00 L234.60,390.00 C234.67,392.50 234.75,399.17 235.00,405.00 C235.25,410.83 235.80,419.17 236.10,425.00 C236.40,430.83 236.42,435.50 236.80,440.00 C237.18,444.50 237.68,447.83 238.40,452.00 C239.12,456.17 240.00,460.77 241.10,465.00 C242.20,469.23 243.93,473.23 245.00,477.40 C246.07,481.57 246.94,486.23 247.50,490.00 C248.06,493.77 248.58,495.87 248.35,500.00 C248.12,504.13 247.31,509.22 246.10,514.80 C244.89,520.38 242.55,527.27 241.10,533.50 C239.65,539.73 238.23,546.95 237.40,552.20 C236.57,557.45 236.52,560.13 236.10,565.00 C235.68,569.87 235.10,578.67 234.90,581.40 L224.90,581.40 C224.70,578.67 224.12,569.87 223.70,565.00 C223.28,560.13 223.23,557.45 222.40,552.20 C221.57,546.95 220.15,539.73 218.70,533.50 C217.25,527.27 214.91,520.38 213.70,514.80 C212.49,509.22 211.68,504.13 211.45,500.00 C211.22,495.87 211.74,493.77 212.30,490.00 C212.86,486.23 213.73,481.57 214.80,477.40 C215.87,473.23 217.60,469.23 218.70,465.00 C219.80,460.77 220.68,456.17 221.40,452.00 C222.12,447.83 222.62,444.50 223.00,440.00 C223.38,435.50 223.40,430.83 223.70,425.00 C224.00,419.17 224.55,410.83 224.80,405.00 C225.05,399.17 225.13,392.50 225.20,390.00 Z" fill="#954A9D" stroke="#1a1a1a" stroke-width="0.9"/>
<circle cx="229.90" cy="390.50" r="1.75" fill="none" stroke="#1a1a1a" stroke-width="1.00"/><circle cx="229.90" cy="423.80" r="1.75" fill="none" stroke="#1a1a1a" stroke-width="1.00"/><circle cx="229.90" cy="456.20" r="1.75" fill="none" stroke="#1a1a1a" stroke-width="1.00"/><circle cx="229.90" cy="484.60" r="1.75" fill="none" stroke="#1a1a1a" stroke-width="1.00"/><circle cx="229.90" cy="489.70" r="1.75" fill="none" stroke="#1a1a1a" stroke-width="1.00"/><circle cx="228.10" cy="504.80" r="1.75" fill="none" stroke="#1a1a1a" stroke-width="1.00"/><circle cx="231.80" cy="504.80" r="1.75" fill="none" stroke="#1a1a1a" stroke-width="1.00"/><circle cx="229.90" cy="506.70" r="1.75" fill="none" stroke="#1a1a1a" stroke-width="1.00"/><circle cx="229.90" cy="533.80" r="1.75" fill="none" stroke="#1a1a1a" stroke-width="1.00"/><circle cx="229.90" cy="546.40" r="1.75" fill="none" stroke="#1a1a1a" stroke-width="1.00"/><circle cx="229.90" cy="581.40" r="1.75" fill="none" stroke="#1a1a1a" stroke-width="1.00"/>
<text x="127.40" y="612.30" font-size="10.60" fill="#111" text-anchor="middle" font-family="Liberation Sans, sans-serif">Control</text>
<text x="127.40" y="624.80" font-size="10.60" fill="#111" text-anchor="middle" font-family="Liberation Sans, sans-serif">n=10</text>
<text x="230.00" y="612.30" font-size="10.60" fill="#111" text-anchor="middle" font-family="Liberation Sans, sans-serif">+<tspan font-style="italic">Sodalis</tspan></text>
<text x="230.00" y="624.80" font-size="10.60" fill="#111" text-anchor="middle" font-family="Liberation Sans, sans-serif">n=11</text>
<line x1="420.5" y1="352.6" x2="420.5" y2="597.0" stroke="#222" stroke-width="1"/>
<line x1="420.0" y1="596.5" x2="651.0" y2="596.5" stroke="#222" stroke-width="1"/>
<line x1="418.0" y1="419.00" x2="420.0" y2="419.00" stroke="#222" stroke-width="1"/>
<line x1="418.0" y1="499.00" x2="420.0" y2="499.00" stroke="#222" stroke-width="1"/>
<line x1="418.0" y1="579.40" x2="420.0" y2="579.40" stroke="#222" stroke-width="1"/>
<rect x="490.00" y="597.0" width="2" height="1.6" fill="#222"/>
<rect x="594.00" y="597.0" width="2" height="1.6" fill="#222"/>
<text x="416.50" y="421.00" font-size="10.60" fill="#111" text-anchor="end" font-family="Liberation Sans, sans-serif">10<tspan font-size="5.70" dy="-3.50">−7</tspan></text>
<text x="416.50" y="501.00" font-size="10.60" fill="#111" text-anchor="end" font-family="Liberation Sans, sans-serif">10<tspan font-size="5.70" dy="-3.50">−8</tspan></text>
<text x="416.50" y="581.40" font-size="10.60" fill="#111" text-anchor="end" font-family="Liberation Sans, sans-serif">10<tspan font-size="5.70" dy="-3.50">−9</tspan></text>
<text x="0" y="0" font-size="10.45" fill="#111" text-anchor="middle" transform="translate(379.00,476.15) rotate(-90)" textLength="223.60" lengthAdjust="spacingAndGlyphs" font-family="Liberation Sans, sans-serif">Variance of bacteriome volume per beetle [mm<tspan font-size="6.5" dy="-3.5">6</tspan><tspan dy="3.5">]</tspan></text>
<line x1="491.00" y1="356.50" x2="594.50" y2="356.50" stroke="#383838" stroke-width="1"/>
<text x="543.25" y="357.60" font-size="19.20" fill="#111" text-anchor="middle" font-family="Liberation Sans, sans-serif">***</text>
<path d="M484.00,461.60 L498.00,461.60 C498.75,463.83 501.08,470.27 502.50,475.00 C503.92,479.73 505.50,485.50 506.50,490.00 C507.50,494.50 507.97,498.17 508.50,502.00 C509.03,505.83 509.45,509.33 509.70,513.00 C509.95,516.67 510.07,519.50 510.00,524.00 C509.93,528.50 509.70,534.67 509.30,540.00 C508.90,545.33 508.32,551.33 507.60,556.00 C506.88,560.67 505.83,563.77 505.00,568.00 C504.17,572.23 503.00,579.17 502.60,581.40 L479.40,581.40 C479.00,579.17 477.83,572.23 477.00,568.00 C476.17,563.77 475.12,560.67 474.40,556.00 C473.68,551.33 473.10,545.33 472.70,540.00 C472.30,534.67 472.07,528.50 472.00,524.00 C471.93,519.50 472.05,516.67 472.30,513.00 C472.55,509.33 472.97,505.83 473.50,502.00 C474.03,498.17 474.50,494.50 475.50,490.00 C476.50,485.50 478.08,479.73 479.50,475.00 C480.92,470.27 483.25,463.83 484.00,461.60 Z" fill="#8ACDE5" stroke="#1a1a1a" stroke-width="0.9"/>
<circle cx="491.00" cy="461.60" r="1.75" fill="none" stroke="#1a1a1a" stroke-width="1.00"/><circle cx="491.00" cy="496.20" r="1.75" fill="none" stroke="#1a1a1a" stroke-width="1.00"/><circle cx="489.00" cy="501.60" r="1.75" fill="none" stroke="#1a1a1a" stroke-width="1.00"/><circle cx="493.00" cy="501.60" r="1.75" fill="none" stroke="#1a1a1a" stroke-width="1.00"/><circle cx="491.00" cy="518.40" r="1.75" fill="none" stroke="#1a1a1a" stroke-width="1.00"/><circle cx="491.00" cy="534.60" r="1.75" fill="none" stroke="#1a1a1a" stroke-width="1.00"/><circle cx="489.00" cy="551.40" r="1.75" fill="none" stroke="#1a1a1a" stroke-width="1.00"/><circle cx="493.00" cy="551.40" r="1.75" fill="none" stroke="#1a1a1a" stroke-width="1.00"/><circle cx="491.00" cy="569.70" r="1.75" fill="none" stroke="#1a1a1a" stroke-width="1.00"/><circle cx="491.00" cy="581.90" r="1.75" fill="none" stroke="#1a1a1a" stroke-width="1.00"/>
<path d="M591.60,366.50 L598.00,366.50 C598.00,368.75 597.98,375.25 598.00,380.00 C598.02,384.75 597.87,390.83 598.10,395.00 C598.33,399.17 598.78,402.17 599.40,405.00 C600.02,407.83 600.97,409.50 601.80,412.00 C602.63,414.50 603.03,417.45 604.40,420.00 C605.77,422.55 608.63,425.30 610.00,427.30 C611.37,429.30 612.00,430.60 612.60,432.00 C613.20,433.40 613.65,434.37 613.60,435.70 C613.55,437.03 613.00,438.62 612.30,440.00 C611.60,441.38 610.58,442.22 609.40,444.00 C608.22,445.78 606.43,448.42 605.20,450.70 C603.97,452.98 602.60,454.98 602.00,457.70 C601.40,460.42 601.52,463.95 601.60,467.00 C601.68,470.05 602.43,472.50 602.50,476.00 C602.57,479.50 602.23,484.12 602.00,488.00 C601.77,491.88 601.25,497.42 601.10,499.30 L588.50,499.30 C588.35,497.42 587.83,491.88 587.60,488.00 C587.37,484.12 587.03,479.50 587.10,476.00 C587.17,472.50 587.92,470.05 588.00,467.00 C588.08,463.95 588.20,460.42 587.60,457.70 C587.00,454.98 585.63,452.98 584.40,450.70 C583.17,448.42 581.38,445.78 580.20,444.00 C579.02,442.22 578.00,441.38 577.30,440.00 C576.60,438.62 576.05,437.03 576.00,435.70 C575.95,434.37 576.40,433.40 577.00,432.00 C577.60,430.60 578.23,429.30 579.60,427.30 C580.97,425.30 583.83,422.55 585.20,420.00 C586.57,417.45 586.97,414.50 587.80,412.00 C588.63,409.50 589.58,407.83 590.20,405.00 C590.82,402.17 591.27,399.17 591.50,395.00 C591.73,390.83 591.58,384.75 591.60,380.00 C591.62,375.25 591.60,368.75 591.60,366.50 Z" fill="#954A9D" stroke="#1a1a1a" stroke-width="0.9"/>
<circle cx="594.50" cy="367.30" r="1.75" fill="none" stroke="#1a1a1a" stroke-width="1.00"/><circle cx="594.50" cy="398.80" r="1.75" fill="none" stroke="#1a1a1a" stroke-width="1.00"/><circle cx="595.20" cy="430.60" r="1.75" fill="none" stroke="#1a1a1a" stroke-width="1.00"/><circle cx="593.00" cy="432.00" r="1.75" fill="none" stroke="#1a1a1a" stroke-width="1.00"/><circle cx="596.60" cy="432.00" r="1.75" fill="none" stroke="#1a1a1a" stroke-width="1.00"/><circle cx="593.00" cy="439.30" r="1.75" fill="none" stroke="#1a1a1a" stroke-width="1.00"/><circle cx="596.60" cy="439.30" r="1.75" fill="none" stroke="#1a1a1a" stroke-width="1.00"/><circle cx="594.80" cy="445.20" r="1.75" fill="none" stroke="#1a1a1a" stroke-width="1.00"/><circle cx="594.50" cy="473.20" r="1.75" fill="none" stroke="#1a1a1a" stroke-width="1.00"/><circle cx="594.50" cy="484.40" r="1.75" fill="none" stroke="#1a1a1a" stroke-width="1.00"/><circle cx="594.50" cy="499.30" r="1.75" fill="none" stroke="#1a1a1a" stroke-width="1.00"/>
<text x="491.00" y="612.30" font-size="10.60" fill="#111" text-anchor="middle" font-family="Liberation Sans, sans-serif">Control</text>
<text x="491.00" y="624.80" font-size="10.60" fill="#111" text-anchor="middle" font-family="Liberation Sans, sans-serif">n=10</text>
<text x="595.00" y="612.30" font-size="10.60" fill="#111" text-anchor="middle" font-family="Liberation Sans, sans-serif">+<tspan font-style="italic">Sodalis</tspan></text>
<text x="595.00" y="624.80" font-size="10.60" fill="#111" text-anchor="middle" font-family="Liberation Sans, sans-serif">n=11</text>
<line x1="57.5" y1="683.7" x2="57.5" y2="923.0" stroke="#222" stroke-width="1"/>
<line x1="57.0" y1="922.5" x2="295.0" y2="922.5" stroke="#222" stroke-width="1"/>
<line x1="54.0" y1="721.50" x2="57.0" y2="721.50" stroke="#222" stroke-width="1"/>
<line x1="54.0" y1="792.50" x2="57.0" y2="792.50" stroke="#222" stroke-width="1"/>
<line x1="54.0" y1="864.20" x2="57.0" y2="864.20" stroke="#222" stroke-width="1"/>
<rect x="125.80" y="923.0" width="2" height="1.6" fill="#222"/>
<rect x="229.20" y="923.0" width="2" height="1.6" fill="#222"/>
<text x="51.20" y="725.30" font-size="10.60" fill="#111" text-anchor="end" font-family="Liberation Sans, sans-serif">10<tspan font-size="4.60" dy="-4.29">7</tspan></text>
<text x="51.20" y="796.30" font-size="10.60" fill="#111" text-anchor="end" font-family="Liberation Sans, sans-serif">10<tspan font-size="4.60" dy="-4.29">4</tspan></text>
<text x="51.20" y="868.00" font-size="10.60" fill="#111" text-anchor="end" font-family="Liberation Sans, sans-serif">10<tspan font-size="4.60" dy="-4.29">1</tspan></text>
<text x="0" y="0" font-size="10.45" fill="#111" text-anchor="middle" transform="translate(23.00,808.70) rotate(-90)" textLength="174.80" lengthAdjust="spacingAndGlyphs" font-family="Liberation Sans, sans-serif">16S <tspan font-style="italic">Shikimatogenerans</tspan> copy number</text>
<line x1="124.00" y1="680.50" x2="236.30" y2="680.50" stroke="#383838" stroke-width="1"/>
<text x="180.15" y="676.80" font-size="12.20" fill="#111" text-anchor="middle" font-family="Liberation Sans, sans-serif">n.s.</text>
<path d="M80.9,710.6 C88,709 95,708.3 100,708 C104,707.6 107,707.3 110,707.2 L145,707.2 C148,707.4 150,707.8 152,708.1 C160,709 167,709.8 173.4,710.8 C166,711.9 158,713.2 152,714 C148,714.6 145,715.6 143,716.8 C140,718 137,718.6 133.7,718.6 L120.5,718.6 C117,718.6 114,717.5 111,716 C108,715 104,714.8 100,714.7 C94,714.2 87,712.2 80.9,710.6 Z" fill="#954A9D" stroke="#1a1a1a" stroke-width="0.9"/>
<circle cx="107.90" cy="709.40" r="1.50" fill="none" stroke="#1a1a1a" stroke-width="0.95"/><circle cx="111.40" cy="709.40" r="1.50" fill="none" stroke="#1a1a1a" stroke-width="0.95"/><circle cx="114.90" cy="709.40" r="1.50" fill="none" stroke="#1a1a1a" stroke-width="0.95"/><circle cx="118.40" cy="709.40" r="1.50" fill="none" stroke="#1a1a1a" stroke-width="0.95"/><circle cx="121.90" cy="709.40" r="1.50" fill="none" stroke="#1a1a1a" stroke-width="0.95"/><circle cx="125.40" cy="709.40" r="1.50" fill="none" stroke="#1a1a1a" stroke-width="0.95"/><circle cx="128.90" cy="709.40" r="1.50" fill="none" stroke="#1a1a1a" stroke-width="0.95"/><circle cx="132.40" cy="709.40" r="1.50" fill="none" stroke="#1a1a1a" stroke-width="0.95"/><circle cx="135.90" cy="709.40" r="1.50" fill="none" stroke="#1a1a1a" stroke-width="0.95"/><circle cx="139.40" cy="709.40" r="1.50" fill="none" stroke="#1a1a1a" stroke-width="0.95"/><circle cx="142.90" cy="709.40" r="1.50" fill="none" stroke="#1a1a1a" stroke-width="0.95"/><circle cx="146.40" cy="709.40" r="1.50" fill="none" stroke="#1a1a1a" stroke-width="0.95"/><circle cx="111.40" cy="715.50" r="1.50" fill="none" stroke="#1a1a1a" stroke-width="0.95"/><circle cx="114.90" cy="715.50" r="1.50" fill="none" stroke="#1a1a1a" stroke-width="0.95"/><circle cx="118.40" cy="715.50" r="1.50" fill="none" stroke="#1a1a1a" stroke-width="0.95"/><circle cx="121.90" cy="715.50" r="1.50" fill="none" stroke="#1a1a1a" stroke-width="0.95"/><circle cx="125.40" cy="715.50" r="1.50" fill="none" stroke="#1a1a1a" stroke-width="0.95"/><circle cx="128.90" cy="715.50" r="1.50" fill="none" stroke="#1a1a1a" stroke-width="0.95"/><circle cx="132.40" cy="715.50" r="1.50" fill="none" stroke="#1a1a1a" stroke-width="0.95"/><circle cx="135.90" cy="715.50" r="1.50" fill="none" stroke="#1a1a1a" stroke-width="0.95"/><circle cx="139.40" cy="715.50" r="1.50" fill="none" stroke="#1a1a1a" stroke-width="0.95"/><circle cx="142.90" cy="715.50" r="1.50" fill="none" stroke="#1a1a1a" stroke-width="0.95"/>
<path d="M216.6,706.6 L242.9,706.6 C248,707.8 255,710 255.2,712.3 C255,714.3 248,716.3 242.9,717.5 C239.5,719.5 237,722 235.9,724 L234.6,726.1 L225,726.1 L223.6,724 C222.5,722 220,719.5 215.8,717.5 C211,716.3 205,714.3 204.8,712.3 C205,710 211,707.8 216.6,706.6 Z" fill="#8ACDE5" stroke="#1a1a1a" stroke-width="0.9"/>
<circle cx="221.00" cy="708.80" r="1.50" fill="none" stroke="#1a1a1a" stroke-width="0.95"/><circle cx="224.50" cy="708.80" r="1.50" fill="none" stroke="#1a1a1a" stroke-width="0.95"/><circle cx="228.00" cy="708.80" r="1.50" fill="none" stroke="#1a1a1a" stroke-width="0.95"/><circle cx="231.50" cy="708.80" r="1.50" fill="none" stroke="#1a1a1a" stroke-width="0.95"/><circle cx="235.00" cy="708.80" r="1.50" fill="none" stroke="#1a1a1a" stroke-width="0.95"/><circle cx="238.50" cy="708.80" r="1.50" fill="none" stroke="#1a1a1a" stroke-width="0.95"/><circle cx="217.50" cy="716.00" r="1.50" fill="none" stroke="#1a1a1a" stroke-width="0.95"/><circle cx="221.00" cy="716.00" r="1.50" fill="none" stroke="#1a1a1a" stroke-width="0.95"/><circle cx="224.50" cy="716.00" r="1.50" fill="none" stroke="#1a1a1a" stroke-width="0.95"/><circle cx="228.00" cy="716.00" r="1.50" fill="none" stroke="#1a1a1a" stroke-width="0.95"/><circle cx="231.50" cy="716.00" r="1.50" fill="none" stroke="#1a1a1a" stroke-width="0.95"/><circle cx="235.00" cy="716.00" r="1.50" fill="none" stroke="#1a1a1a" stroke-width="0.95"/><circle cx="238.50" cy="716.00" r="1.50" fill="none" stroke="#1a1a1a" stroke-width="0.95"/><circle cx="242.00" cy="716.00" r="1.50" fill="none" stroke="#1a1a1a" stroke-width="0.95"/><circle cx="226.30" cy="722.90" r="1.50" fill="none" stroke="#1a1a1a" stroke-width="0.95"/><circle cx="229.80" cy="722.90" r="1.50" fill="none" stroke="#1a1a1a" stroke-width="0.95"/><circle cx="233.30" cy="722.90" r="1.50" fill="none" stroke="#1a1a1a" stroke-width="0.95"/>
<text x="126.80" y="938.80" font-size="10.60" fill="#111" text-anchor="middle" font-family="Liberation Sans, sans-serif">Control</text>
<text x="126.80" y="951.30" font-size="10.60" fill="#111" text-anchor="middle" font-family="Liberation Sans, sans-serif">n=22</text>
<text x="230.20" y="938.80" font-size="10.60" fill="#111" text-anchor="middle" font-family="Liberation Sans, sans-serif">+<tspan font-style="italic">Sodalis</tspan></text>
<text x="230.20" y="951.30" font-size="10.60" fill="#111" text-anchor="middle" font-family="Liberation Sans, sans-serif">n=17</text>
<line x1="421.5" y1="676.5" x2="421.5" y2="923.0" stroke="#222" stroke-width="1"/>
<line x1="421.0" y1="922.5" x2="648.0" y2="922.5" stroke="#222" stroke-width="1"/>
<line x1="419.8" y1="700.70" x2="421.0" y2="700.70" stroke="#222" stroke-width="1"/>
<line x1="419.8" y1="760.00" x2="421.0" y2="760.00" stroke="#222" stroke-width="1"/>
<line x1="419.8" y1="819.20" x2="421.0" y2="819.20" stroke="#222" stroke-width="1"/>
<line x1="419.8" y1="878.30" x2="421.0" y2="878.30" stroke="#222" stroke-width="1"/>
<rect x="490.00" y="923.0" width="2" height="1.6" fill="#222"/>
<rect x="594.40" y="923.0" width="2" height="1.6" fill="#222"/>
<text x="417.50" y="704.00" font-size="10.60" fill="#111" text-anchor="end" font-family="Liberation Sans, sans-serif">4.5</text>
<text x="417.50" y="763.30" font-size="10.60" fill="#111" text-anchor="end" font-family="Liberation Sans, sans-serif">4.0</text>
<text x="417.50" y="822.50" font-size="10.60" fill="#111" text-anchor="end" font-family="Liberation Sans, sans-serif">3.5</text>
<text x="417.50" y="881.60" font-size="10.60" fill="#111" text-anchor="end" font-family="Liberation Sans, sans-serif">3.0</text>
<text x="0" y="0" font-size="10.45" fill="#111" text-anchor="middle" transform="translate(379.00,803.50) rotate(-90)" textLength="192.00" lengthAdjust="spacingAndGlyphs" font-family="Liberation Sans, sans-serif">Mean <tspan font-style="italic">Shikimatogenerans</tspan> cell length [µm]</text>
<line x1="493.90" y1="681.50" x2="594.40" y2="681.50" stroke="#383838" stroke-width="1"/>
<text x="544.65" y="683.40" font-size="19.20" fill="#111" text-anchor="middle" font-family="Liberation Sans, sans-serif">***</text>
<path d="M473.90,812.40 L509.50,812.40 C509.80,813.97 511.35,818.03 511.30,821.80 C511.25,825.57 510.17,828.97 509.20,835.00 C508.23,841.03 506.32,851.33 505.50,858.00 C504.68,864.67 504.60,870.17 504.30,875.00 C504.00,879.83 503.92,882.28 503.70,887.00 C503.48,891.72 503.12,900.58 503.00,903.30 L480.40,903.30 C480.28,900.58 479.92,891.72 479.70,887.00 C479.48,882.28 479.40,879.83 479.10,875.00 C478.80,870.17 478.72,864.67 477.90,858.00 C477.08,851.33 475.17,841.03 474.20,835.00 C473.23,828.97 472.15,825.57 472.10,821.80 C472.05,818.03 473.60,813.97 473.90,812.40 Z" fill="#8ACDE5" stroke="#1a1a1a" stroke-width="0.9"/>
<circle cx="489.90" cy="813.80" r="1.75" fill="none" stroke="#1a1a1a" stroke-width="1.00"/><circle cx="493.60" cy="813.80" r="1.75" fill="none" stroke="#1a1a1a" stroke-width="1.00"/><circle cx="489.90" cy="823.60" r="1.75" fill="none" stroke="#1a1a1a" stroke-width="1.00"/><circle cx="493.60" cy="823.60" r="1.75" fill="none" stroke="#1a1a1a" stroke-width="1.00"/><circle cx="489.90" cy="864.30" r="1.75" fill="none" stroke="#1a1a1a" stroke-width="1.00"/><circle cx="493.60" cy="864.30" r="1.75" fill="none" stroke="#1a1a1a" stroke-width="1.00"/><circle cx="489.90" cy="902.30" r="1.75" fill="none" stroke="#1a1a1a" stroke-width="1.00"/><circle cx="493.60" cy="902.30" r="1.75" fill="none" stroke="#1a1a1a" stroke-width="1.00"/>
<path d="M581.50,690.30 L610.10,690.30 C610.63,691.92 612.50,695.75 613.30,700.00 C614.10,704.25 615.07,710.80 614.90,715.80 C614.73,720.80 613.32,724.88 612.30,730.00 C611.28,735.12 609.73,741.17 608.80,746.50 C607.87,751.83 607.45,756.45 606.70,762.00 C605.95,767.55 605.03,773.47 604.30,779.80 C603.57,786.13 602.85,792.42 602.30,800.00 C601.75,807.58 601.22,821.08 601.00,825.30 L590.60,825.30 C590.38,821.08 589.85,807.58 589.30,800.00 C588.75,792.42 588.03,786.13 587.30,779.80 C586.57,773.47 585.65,767.55 584.90,762.00 C584.15,756.45 583.73,751.83 582.80,746.50 C581.87,741.17 580.32,735.12 579.30,730.00 C578.28,724.88 576.87,720.80 576.70,715.80 C576.53,710.80 577.50,704.25 578.30,700.00 C579.10,695.75 580.97,691.92 581.50,690.30 Z" fill="#954A9D" stroke="#1a1a1a" stroke-width="0.9"/>
<circle cx="594.00" cy="691.30" r="1.75" fill="none" stroke="#1a1a1a" stroke-width="1.00"/><circle cx="597.50" cy="691.30" r="1.75" fill="none" stroke="#1a1a1a" stroke-width="1.00"/><circle cx="595.80" cy="702.10" r="1.75" fill="none" stroke="#1a1a1a" stroke-width="1.00"/><circle cx="595.80" cy="719.40" r="1.75" fill="none" stroke="#1a1a1a" stroke-width="1.00"/><circle cx="594.00" cy="728.30" r="1.75" fill="none" stroke="#1a1a1a" stroke-width="1.00"/><circle cx="597.50" cy="728.30" r="1.75" fill="none" stroke="#1a1a1a" stroke-width="1.00"/><circle cx="595.80" cy="744.00" r="1.75" fill="none" stroke="#1a1a1a" stroke-width="1.00"/><circle cx="595.80" cy="766.00" r="1.75" fill="none" stroke="#1a1a1a" stroke-width="1.00"/><circle cx="595.80" cy="792.60" r="1.75" fill="none" stroke="#1a1a1a" stroke-width="1.00"/><circle cx="595.80" cy="825.20" r="1.75" fill="none" stroke="#1a1a1a" stroke-width="1.00"/>
<text x="491.00" y="936.80" font-size="10.60" fill="#111" text-anchor="middle" font-family="Liberation Sans, sans-serif">Control</text>
<text x="491.00" y="949.30" font-size="10.60" fill="#111" text-anchor="middle" font-family="Liberation Sans, sans-serif">n=8</text>
<text x="595.40" y="936.80" font-size="10.60" fill="#111" text-anchor="middle" font-family="Liberation Sans, sans-serif">+<tspan font-style="italic">Sodalis</tspan></text>
<text x="595.40" y="949.30" font-size="10.60" fill="#111" text-anchor="middle" font-family="Liberation Sans, sans-serif">n=10</text>
</svg>
</body></html>
